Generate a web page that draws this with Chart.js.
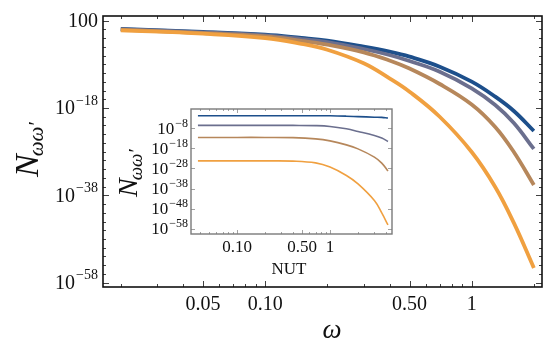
<!DOCTYPE html>
<html>
<head>
<meta charset="utf-8">
<script src="https://cdn.jsdelivr.net/npm/chart.js@4.4.1/dist/chart.umd.min.js"></script>
<style>
  html, body { margin: 0; padding: 0; background: #fff; }
  #wrap { position: relative; width: 550px; height: 343px; }
  #wrap canvas { position: absolute; left: 0; top: 0; }
</style>
</head>
<body>
<div id="wrap">
  <canvas id="main" width="550" height="343"></canvas>
  <canvas id="inset" width="550" height="343"></canvas>
</div>
<script>
// --- Data: main plot (N vs omega) ---
const omega   = [0.02, 0.05, 0.1, 0.15, 0.2, 0.3, 0.4, 0.5, 0.7, 1, 1.3, 1.6, 2];
const nBlue   = [1.26, 0.257, 0.0617, 1.1e-2, 2.6e-3, 1.1e-4, 7.9e-6, 5.8e-7, 3.0e-9, 1.1e-12, 4.0e-16, 2.1e-19, 5.5e-24];
const nSlate  = [1.07, 0.219, 0.0407, 6.3e-3, 1.3e-3, 3.3e-5, 1.4e-6, 5.9e-8, 2.1e-10, 3.3e-14, 5.0e-18, 3.7e-22, 4.2e-28];
const nTan    = [0.87, 0.151, 0.024, 2.5e-3, 3.2e-4, 5.8e-6, 7.8e-8, 1.1e-9, 3.2e-13, 6.5e-18, 4.6e-23, 8.5e-29, 2.4e-36];
const nOrange = [0.63, 0.105, 0.011, 5.0e-4, 2.3e-5, 1.8e-8, 6.3e-12, 5.5e-15, 1.0e-20, 8.5e-29, 8.3e-37, 4.8e-45, 2.3e-55];

// --- Data: inset (N vs NUT) ---
const nut      = [0.038, 0.1, 0.2, 0.4, 0.7, 1, 1.5, 2, 3, 3.6, 4.2];
const iBlue    = [2.1e-2, 2.1e-2, 2.1e-2, 2.1e-2, 2.1e-2, 2.0e-2, 1.3e-2, 7.9e-3, 4.0e-3, 3.2e-3, 1.6e-3];
const iSlate   = [3.2e-7, 3.2e-7, 3.2e-7, 3.2e-7, 2.5e-7, 1.0e-7, 6.3e-9, 3.2e-10, 3.2e-12, 1.6e-13, 3.2e-15];
const iTan     = [3.2e-13, 3.2e-13, 3.2e-13, 2.5e-13, 6.3e-14, 6.3e-15, 6.3e-17, 6.3e-19, 5.0e-23, 5.0e-26, 5.0e-30];
const iOrange  = [6.3e-25, 6.3e-25, 6.3e-25, 5.0e-25, 6.3e-26, 5.0e-28, 3.2e-32, 2.0e-36, 1.0e-44, 6.3e-51, 6.3e-57];

// --- Ticks ---
const xTicks      = [0.05, 0.1, 0.5, 1];
const xTickLabels = ['0.05', '0.10', '0.50', '1'];
const xMinor      = [0.02, 0.03, 0.04, 0.06, 0.07, 0.08, 0.09, 0.2, 0.3, 0.4, 0.6, 0.7, 0.8, 0.9, 2];
const yTicks      = [1e2, 1e-18, 1e-38, 1e-58];
const yTickLabels = [['100', ''], ['10', '−18'], ['10', '−38'], ['10', '−58']];

const insetXTicks      = [0.1, 0.5, 1];
const insetXTickLabels = ['0.10', '0.50', '1'];
const insetXMinor      = [0.04, 0.05, 0.06, 0.07, 0.08, 0.09, 0.2, 0.3, 0.4, 0.6, 0.7, 0.8, 0.9, 2, 3, 4];
const insetYTicks      = [1e-8, 1e-18, 1e-28, 1e-38, 1e-48, 1e-58];
const insetYTickLabels = ['−8', '−18', '−28', '−38', '−48', '−58'];

const colors = { blue: '#1d4f8b', slate: '#6b6f8e', tan: '#b6875b', orange: '#f0a040' };
const serif = '"Liberation Serif", "Times New Roman", serif';

const pts = (xs, ys) => xs.map((v, i) => ({ x: v, y: ys[i] }));
const line = (xs, ys, color, width) => ({
    data: pts(xs, ys),
    borderColor: color,
    borderWidth: width,
    pointRadius: 0,
    tension: 0.4,
    fill: false
});

// --- Frame with inward ticks on all sides ---
function drawFrame(chart, o) {
    const { ctx, chartArea: a, scales: { x, y } } = chart;
    ctx.save();
    ctx.strokeStyle = o.color;
    ctx.lineWidth = o.tickWidth;
    ctx.beginPath();
    const xt = (vals, len) => vals.forEach(v => {
        const px = Math.round(x.getPixelForValue(v)) + 0.5;
        ctx.moveTo(px, a.bottom); ctx.lineTo(px, a.bottom - len);
        ctx.moveTo(px, a.top); ctx.lineTo(px, a.top + len);
    });
    const yt = (vals, len) => vals.forEach(v => {
        const py = Math.round(y.getPixelForValue(v)) + 0.5;
        ctx.moveTo(a.left, py); ctx.lineTo(a.left + len, py);
        ctx.moveTo(a.right, py); ctx.lineTo(a.right - len, py);
    });
    xt(o.xMajor, o.major); xt(o.xMinor, o.minor);
    yt(o.yMajor, o.major); yt(o.yMinor, o.minor);
    ctx.stroke();
    ctx.lineWidth = o.frameWidth;
    ctx.strokeRect(a.left, a.top, a.right - a.left, a.bottom - a.top);
    ctx.restore();
}

function decadesBetween(lo, hi, step) {
    const out = [];
    for (let e = lo; e <= hi; e += step) out.push(Math.pow(10, e));
    return out;
}

const mainDecor = {
    id: 'mainDecor',
    afterDraw(chart) {
        const { ctx, scales: { x, y } } = chart;
        drawFrame(chart, {
            color: '#111', frameWidth: 1.6, tickWidth: 0.8, major: 6, minor: 3,
            xMajor: xTicks, xMinor: xMinor,
            yMajor: yTicks, yMinor: decadesBetween(-58, 2, 2).filter(v => !yTicks.includes(v))
        });
        ctx.save();
        ctx.fillStyle = '#111';
        // x tick labels
        ctx.font = '20px ' + serif;
        ctx.textAlign = 'center';
        ctx.textBaseline = 'middle';
        xTicks.forEach((v, i) => ctx.fillText(xTickLabels[i], x.getPixelForValue(v), 305));
        // y tick labels with superscripts
        ctx.textAlign = 'right';
        yTicks.forEach((v, i) => {
            const py = y.getPixelForValue(v);
            const [base, sup] = yTickLabels[i];
            let right = 98;
            if (sup) {
                ctx.font = '14px ' + serif;
                ctx.fillText(sup, right, py - 7);
                right -= ctx.measureText(sup).width + 1;
            }
            ctx.font = '20px ' + serif;
            ctx.fillText(base, right, py + 1);
        });
        // x title
        ctx.font = 'italic 27px ' + serif;
        ctx.textAlign = 'center';
        ctx.textBaseline = 'alphabetic';
        ctx.fillText('ω', 332, 338);
        // y title (rotated)
        ctx.translate(38, 177);
        ctx.rotate(-Math.PI / 2);
        ctx.textAlign = 'left';
        ctx.font = 'italic 34px ' + serif;
        ctx.fillText('N', 0, 0);
        const nw = ctx.measureText('N').width;
        ctx.font = 'italic 21px ' + serif;
        ctx.fillText('ωω′', nw - 2, 5);
        ctx.restore();
    }
};

const insetDecor = {
    id: 'insetDecor',
    beforeDraw(chart) {
        const { ctx, chartArea: a } = chart;
        ctx.save();
        ctx.fillStyle = '#fff';
        ctx.fillRect(a.left, a.top, a.right - a.left, a.bottom - a.top);
        ctx.restore();
    },
    afterDraw(chart) {
        const { ctx, scales: { x, y } } = chart;
        drawFrame(chart, {
            color: '#7a7a7a', frameWidth: 1.4, tickWidth: 0.7, major: 4, minor: 2,
            xMajor: insetXTicks, xMinor: insetXMinor,
            yMajor: insetYTicks, yMinor: []
        });
        ctx.save();
        ctx.fillStyle = '#111';
        ctx.font = '17px ' + serif;
        ctx.textAlign = 'center';
        ctx.textBaseline = 'middle';
        insetXTicks.forEach((v, i) => ctx.fillText(insetXTickLabels[i], x.getPixelForValue(v), 248));
        ctx.fillText('NUT', 289, 270);
        ctx.textAlign = 'right';
        insetYTicks.forEach((v, i) => {
            const py = y.getPixelForValue(v);
            const sup = insetYTickLabels[i];
            ctx.font = '12px ' + serif;
            ctx.fillText(sup, 188, py - 5);
            const sw = ctx.measureText(sup).width;
            ctx.font = '17px ' + serif;
            ctx.fillText('10', 188 - sw - 1, py + 1);
        });
        // inset y title
        ctx.translate(137, 197);
        ctx.rotate(-Math.PI / 2);
        ctx.textAlign = 'left';
        ctx.textBaseline = 'alphabetic';
        ctx.font = 'italic 28px ' + serif;
        ctx.fillText('N', 0, 0);
        const nw = ctx.measureText('N').width;
        ctx.font = 'italic 19px ' + serif;
        ctx.fillText('ωω′', nw - 2, 5);
        ctx.restore();
    }
};

const baseOptions = (padding, xr, yr) => ({
    responsive: false,
    animation: false,
    layout: { padding },
    plugins: { legend: { display: false }, tooltip: { enabled: false } },
    scales: {
        x: { type: 'logarithmic', min: xr[0], max: xr[1], display: false },
        y: { type: 'logarithmic', min: yr[0], max: yr[1], display: false }
    }
});

// Chart.js draws the first dataset on top; orange sits on top in the reference.
new Chart(document.getElementById('main'), {
    type: 'line',
    data: {
        datasets: [
            line(omega, nOrange, colors.orange, 3.8),
            line(omega, nTan, colors.tan, 3.8),
            line(omega, nSlate, colors.slate, 3.8),
            line(omega, nBlue, colors.blue, 3.8)
        ]
    },
    options: baseOptions({ left: 103, top: 16, right: 8, bottom: 56 }, [0.0164, 2.19], [1e-59, 1.2e3]),
    plugins: [mainDecor]
});

new Chart(document.getElementById('inset'), {
    type: 'line',
    data: {
        datasets: [
            line(nut, iOrange, colors.orange, 1.6),
            line(nut, iTan, colors.tan, 1.6),
            line(nut, iSlate, colors.slate, 1.6),
            line(nut, iBlue, colors.blue, 1.6)
        ]
    },
    options: baseOptions({ left: 191, top: 109, right: 158, bottom: 109 }, [0.032, 4.64], [2e-61, 5e1]),
    plugins: [insetDecor]
});
</script>
</body>
</html>
